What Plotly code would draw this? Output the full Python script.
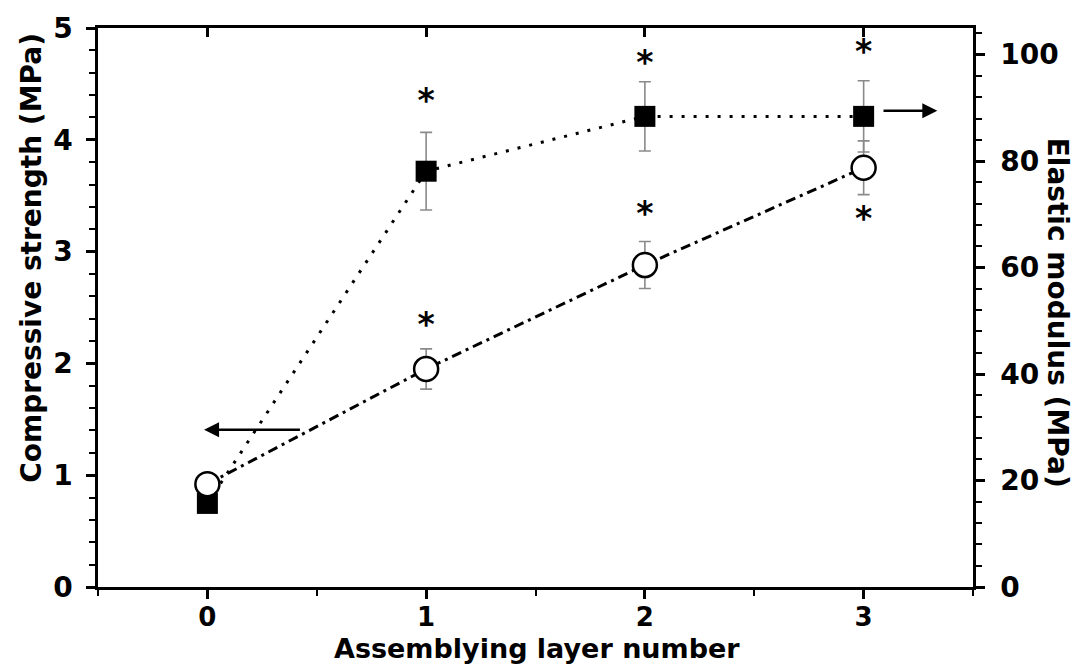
import plotly.graph_objects as go

# ---- data ----
layers = [0, 1, 2, 3]
strength = [0.92, 1.95, 2.88, 3.75]          # MPa, open circles, left axis
strength_err = [0.03, 0.18, 0.21, 0.24]
modulus = [15.7, 78.1, 88.4, 88.4]           # MPa, filled squares, right axis
modulus_err = [0.0, 7.3, 6.5, 6.7]
star_x = [1, 1, 2, 2, 3, 3]
star_y = [4.32, 2.32, 4.66, 3.31, 4.76, 3.27]  # in compressive-strength units
x_ticks = [0, 1, 2, 3]
left_ticks = [0, 1, 2, 3, 4, 5]
right_ticks = [0, 20, 40, 60, 80, 100]

FONT = "DejaVu Sans"
BLACK = "black"
ERR = "#8a8a8a"

fig = go.Figure()

# squares (elastic modulus) on right axis 'y' (base subplot, drawn beneath)
fig.add_trace(go.Scatter(
    x=layers, y=modulus, xaxis="x", yaxis="y",
    mode="lines+markers",
    line=dict(color=BLACK, width=3, dash="3px,9px"),
    marker=dict(symbol="square", size=21, color=BLACK, line=dict(width=0)),
    error_y=dict(type="data", array=modulus_err, visible=True,
                 color=ERR, thickness=1.6, width=6),
    showlegend=False,
))

# circles (compressive strength) on left axis 'y2' (overlay, drawn above)
fig.add_trace(go.Scatter(
    x=layers, y=strength, xaxis="x", yaxis="y2",
    mode="lines+markers",
    line=dict(color=BLACK, width=3, dash="10px,5px,3px,5px"),
    marker=dict(symbol="circle", size=24, color="white",
                line=dict(width=2.5, color=BLACK)),
    error_y=dict(type="data", array=strength_err, visible=True,
                 color=ERR, thickness=1.6, width=6),
    showlegend=False,
))

# significance asterisks (also hosts the top tick axis x2)
fig.add_trace(go.Scatter(
    x=star_x, y=star_y, xaxis="x2", yaxis="y2",
    mode="text", text=["*"] * len(star_x),
    textposition="middle center",
    textfont=dict(family=FONT, size=33, color=BLACK, weight="bold"),
    showlegend=False, hoverinfo="skip",
))

axis_common = dict(
    showline=True, linecolor=BLACK, linewidth=2.5,
    showgrid=False, zeroline=False,
    tickcolor=BLACK, tickwidth=2.5, ticklen=9,
    tickfont=dict(family=FONT, size=28, color=BLACK, weight="bold"),
)

fig.update_layout(
    width=1083, height=667, autosize=False,
    margin=dict(l=98, r=110, t=25, b=80, pad=0),
    paper_bgcolor="white", plot_bgcolor="white",
    xaxis=dict(
        range=[-0.5, 3.5], tickmode="array", tickvals=x_ticks,
        ticks="outside", ticklabelstandoff=-4,
        minor=dict(tick0=0, dtick=0.5, ticks="outside", ticklen=6,
                   tickwidth=2, tickcolor=BLACK),
        **{**axis_common,
           "tickfont": dict(family=FONT, size=26, color=BLACK, weight="bold")},
    ),
    xaxis2=dict(
        range=[-0.5, 3.5], overlaying="x", side="top", anchor="y2",
        tickmode="array", tickvals=x_ticks, ticks="inside",
        showticklabels=False,
        **{k: v for k, v in axis_common.items() if k != "tickfont"},
    ),
    yaxis=dict(
        range=[0, 105], side="right", anchor="x",
        tickmode="array", tickvals=right_ticks, ticks="outside",
        ticklabelstandoff=10,
        minor=dict(tick0=0, dtick=4, ticks="outside", ticklen=6,
                   tickwidth=2, tickcolor=BLACK),
        **axis_common,
    ),
    yaxis2=dict(
        range=[0, 5], side="left", overlaying="y", anchor="x",
        tickmode="array", tickvals=left_ticks, ticks="outside",
        ticklabelstandoff=8,
        minor=dict(tick0=0, dtick=0.2, ticks="outside", ticklen=6,
                   tickwidth=2, tickcolor=BLACK),
        **axis_common,
    ),
)

title_font = dict(family=FONT, size=28, color=BLACK, weight="bold")
fig.add_annotation(text="Compressive strength (MPa)", textangle=-90,
                   xref="paper", yref="paper", x=-0.0754, y=0.589,
                   xanchor="center", yanchor="middle", showarrow=False,
                   font=title_font)
fig.add_annotation(text="Elastic modulus (MPa)", textangle=90,
                   xref="paper", yref="paper", x=1.097, y=0.491,
                   xanchor="center", yanchor="middle", showarrow=False,
                   font=title_font)
fig.add_annotation(text="Assemblying layer number",
                   xref="paper", yref="paper", x=0.502, y=-0.1105,
                   xanchor="center", yanchor="middle", showarrow=False,
                   font=dict(family=FONT, size=27, color=BLACK, weight="bold"))

# axis-indicating arrows
fig.add_annotation(x=-0.015, y=1.406, ax=0.43, ay=1.406,
                   xref="x", yref="y2", axref="x", ayref="y2",
                   text="", showarrow=True, arrowhead=2, arrowsize=1.2,
                   arrowwidth=2.5, arrowcolor=BLACK)
fig.add_annotation(x=3.337, y=4.26, ax=3.084, ay=4.26,
                   xref="x", yref="y2", axref="x", ayref="y2",
                   text="", showarrow=True, arrowhead=2, arrowsize=1.2,
                   arrowwidth=2.5, arrowcolor=BLACK)

fig.write_html("out.html")
